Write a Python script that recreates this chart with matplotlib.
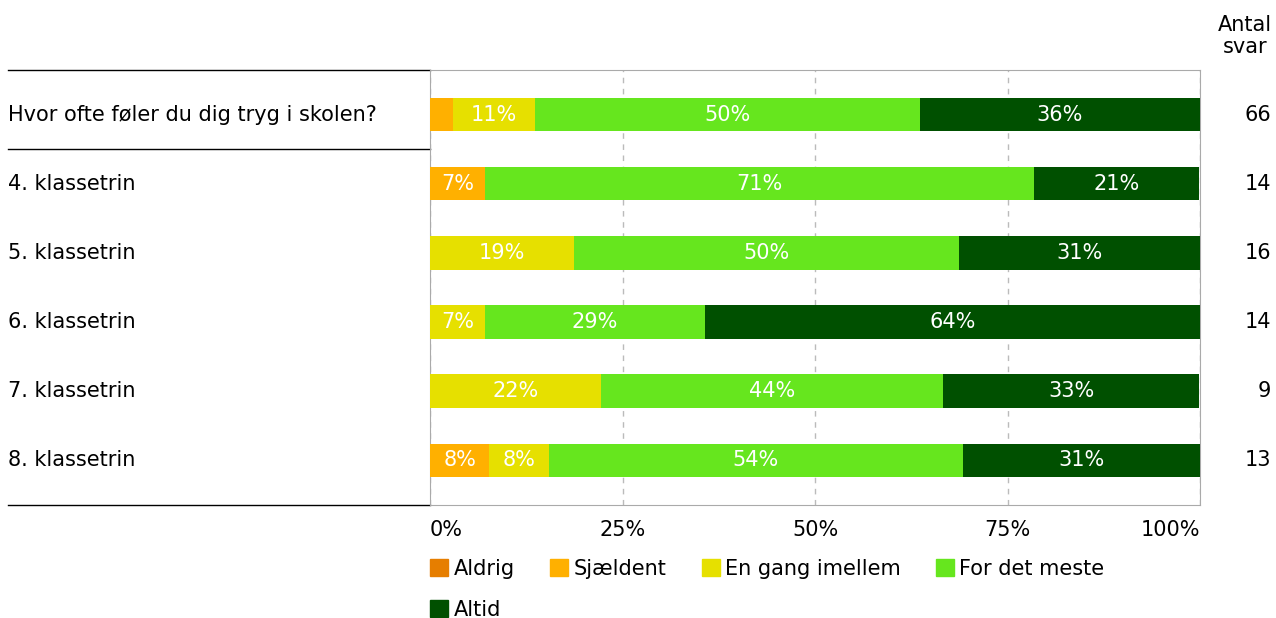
import matplotlib.pyplot as plt
import matplotlib.transforms as mtransforms
import numpy as np

plt.rcParams['font.family'] = ['DejaVu Sans']

rows = ["Hvor ofte føler du dig tryg i skolen?", "4. klassetrin", "5. klassetrin",
        "6. klassetrin", "7. klassetrin", "8. klassetrin"]
antal = [66, 14, 16, 14, 9, 13]
categories = ["Aldrig", "Sjældent", "En gang imellem", "For det meste", "Altid"]
colors = ["#E67E00", "#FFB000", "#E6E000", "#66E61E", "#005000"]

aldrig = [0, 0, 0, 0, 0, 0]
sjaeldent = [3.0, 7.1, 0, 0, 0, 7.7]
en_gang = [10.6, 0, 18.75, 7.1, 22.2, 7.7]
for_det_meste = [50.0, 71.4, 50.0, 28.6, 44.4, 53.8]
altid = [36.4, 21.4, 31.25, 64.3, 33.3, 30.8]
series = [aldrig, sjaeldent, en_gang, for_det_meste, altid]

fs = 15
fig = plt.figure(figsize=(12.76, 6.18), dpi=100)
W, H = 1276, 618
ax = fig.add_axes([430 / W, (H - 505) / H, 770 / W, 435 / H])

y = np.arange(len(rows))
left = np.zeros(len(rows))
for vals, col in zip(series, colors):
    vals = np.array(vals)
    ax.barh(y, vals, left=left, height=0.48, color=col, zorder=3)
    for i, v in enumerate(vals):
        if v >= 5:
            ax.text(left[i] + v / 2, y[i], f"{v:.0f}%", ha="center", va="center",
                    color="white", fontsize=fs, zorder=4)
    left += vals

ax.set_xlim(0, 100)
ax.set_ylim(5.65, -0.65)
ax.set_yticks([])
ax.set_xticks([0, 25, 50, 75, 100])
ax.set_xticklabels(["0%", "25%", "50%", "75%", "100%"], fontsize=fs)
labels = ax.get_xticklabels()
labels[0].set_ha("left")
labels[-1].set_ha("right")
ax.tick_params(axis="x", length=0, pad=11)
for s in ax.spines.values():
    s.set_color("#aaaaaa")
ax.grid(axis="x", linestyle=(0, (4, 4)), color="#bbbbbb", linewidth=1, zorder=0)

# row labels and answer counts
bt = mtransforms.blended_transform_factory(ax.transAxes, ax.transData)
xl = -422 / 770
for i, r in enumerate(rows):
    ax.text(xl, y[i], r, ha="left", va="center", fontsize=fs, transform=bt)
    ax.text(1.0 + 71 / 770, y[i], str(antal[i]), ha="right", va="center", fontsize=fs, transform=bt)
ax.text(1.0 + 45 / 770, 1.0 + 34 / 435, "Antal\nsvar", ha="center", va="center", fontsize=fs,
        linespacing=1.15, transform=ax.transAxes)

# horizontal rules on the left
for yy in [-0.65, 0.5, 5.65]:
    ax.plot([xl, 0], [yy, yy], color="black", linewidth=1, transform=bt, clip_on=False)

# legend (order so that Altid lands under Aldrig)
order = [0, 4, 1, 2, 3]
handles = [plt.Rectangle((0, 0), 1, 1, color=colors[k]) for k in order]
fig.legend(handles, [categories[k] for k in order], loc="upper left",
           bbox_to_anchor=(430 / W, 1 - 559 / H), ncol=4, frameon=False, fontsize=fs,
           handlelength=0.87, handleheight=0.87, handletextpad=0.25, columnspacing=1.7,
           labelspacing=1.0, borderaxespad=0, borderpad=0)

fig.savefig("out.png", dpi=100)
